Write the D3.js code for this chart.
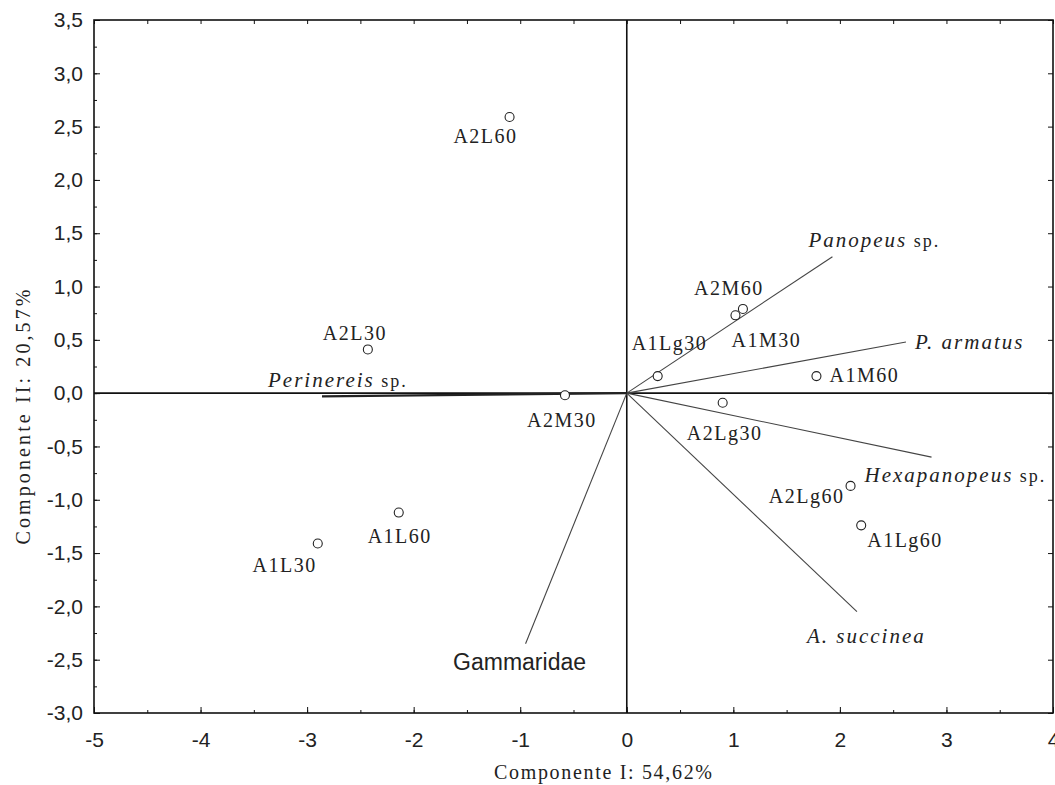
<!DOCTYPE html>
<html>
<head>
<meta charset="utf-8">
<script src="https://cdn.jsdelivr.net/npm/d3@7"></script>
<style>
  body { margin: 0; background: #fff; }
  svg { display: block; }
  .tick text { font-family: "Liberation Sans", Arial, sans-serif; font-size: 21px; fill: #222; }
  .tick line { stroke: #111; }
</style>
</head>
<body>
<svg id="chart" width="1055" height="785"></svg>
<script>
// PCA sample scores (Componente I, Componente II)
var sampleNames = ["A2L60", "A2L30", "A2M30", "A1L60", "A1L30", "A1Lg30",
                   "A2M60", "A1M30", "A1M60", "A2Lg30", "A2Lg60", "A1Lg60"];
var sampleX = [-1.10, -2.43, -0.58, -2.14, -2.90, 0.29, 1.09, 1.02, 1.78, 0.90, 2.10, 2.20];
var sampleY = [2.59, 0.41, -0.02, -1.12, -1.41, 0.16, 0.79, 0.73, 0.16, -0.09, -0.87, -1.24];

// species loadings (vector tips)
var speciesItalic = ["Panopeus", "P. armatus", "Hexapanopeus", "A. succinea", "Gammaridae", "Perinereis"];
var speciesSuffix = [" sp.", "", " sp.", "", "", " sp."];
var speciesX = [1.93, 2.62, 2.86, 2.16, -0.95, -2.86];
var speciesY = [1.28, 0.48, -0.60, -2.05, -2.35, -0.03];

var xTicks = [-5, -4, -3, -2, -1, 0, 1, 2, 3, 4];
var yTicks = [-3, -2.5, -2, -1.5, -1, -0.5, 0, 0.5, 1, 1.5, 2, 2.5, 3, 3.5];
var xTitle = "Componente I: 54,62%";
var yTitle = "Componente II: 20,57%";

// label placement (pixel offset from the mark, anchor)
var sampleLabelPlace = [
  [8, 26, "end"], [-13, -9, "middle"], [-3, 32, "middle"], [1, 30, "middle"],
  [-1, 29, "end"], [-26, -26, "start"], [-14, -14, "middle"], [31, 32, "middle"],
  [13, 6, "start"], [2, 37, "middle"], [-6, 17, "end"], [6, 22, "start"]
];
var speciesLabelPlace = [
  [-24, -10, "start"], [9, 7, "start"], [-67, 25, "start"],
  [-50, 31, "start"], [-6, 26, "middle"], [-54, -9, "start"]
];

var svg = d3.select("#chart");
var pLeft = 94, pRight = 1053, pTop = 20, pBottom = 713;

var x = d3.scaleLinear().domain([-5, 4]).range([pLeft, pRight]);
var y = d3.scaleLinear().domain([-3, 3.5]).range([pBottom, pTop]);

function minorValues(lo, hi, step) {
    var out = [];
    for (var v = lo; v <= hi + 1e-9; v += step) out.push(+v.toFixed(3));
    return out;
}
var xMinor = minorValues(-5, 4, 0.5);
var yMinor = minorValues(-3, 3.5, 0.25);

function noDomain(g) { g.select(".domain").remove(); }

// frame ticks, pointing inside
svg.append("g")
    .attr("transform", "translate(0," + pBottom + ")")
    .call(d3.axisBottom(x).tickValues(xMinor).tickSize(-3).tickFormat(""))
    .call(noDomain);
svg.append("g")
    .attr("transform", "translate(0," + pBottom + ")")
    .call(d3.axisBottom(x).tickValues(xTicks).tickSizeInner(-6).tickSizeOuter(0)
          .tickPadding(19).tickFormat(function(d) { return String(d); }))
    .call(noDomain);
svg.append("g")
    .attr("transform", "translate(0," + pTop + ")")
    .call(d3.axisTop(x).tickValues(xMinor).tickSize(-4).tickFormat(""))
    .call(noDomain);

svg.append("g")
    .attr("transform", "translate(" + pLeft + ",0)")
    .call(d3.axisLeft(y).tickValues(yMinor).tickSize(-3).tickFormat(""))
    .call(noDomain);
svg.append("g")
    .attr("transform", "translate(" + pLeft + ",0)")
    .call(d3.axisLeft(y).tickValues(yTicks).tickSizeInner(-6).tickSizeOuter(0)
          .tickPadding(11).tickFormat(function(d) { return d.toFixed(1).replace(".", ","); }))
    .call(noDomain);
svg.append("g")
    .attr("transform", "translate(" + pRight + ",0)")
    .call(d3.axisRight(y).tickValues(yTicks).tickSize(-5).tickFormat(""))
    .call(noDomain);

// frame
svg.append("rect")
    .attr("x", pLeft).attr("y", pTop)
    .attr("width", pRight - pLeft).attr("height", pBottom - pTop)
    .attr("fill", "none").attr("stroke", "#111").attr("stroke-width", 1.6);

// zero lines
svg.append("line")
    .attr("x1", x(0)).attr("x2", x(0)).attr("y1", pTop).attr("y2", pBottom)
    .attr("stroke", "#111").attr("stroke-width", 1.6);
svg.append("line")
    .attr("x1", pLeft).attr("x2", pRight).attr("y1", y(0)).attr("y2", y(0))
    .attr("stroke", "#111").attr("stroke-width", 1.6);

// species vectors
var species = speciesItalic.map(function(n, i) {
    return {name: n, suffix: speciesSuffix[i], x: speciesX[i], y: speciesY[i], place: speciesLabelPlace[i]};
});
svg.append("g").selectAll("line")
    .data(species).enter().append("line")
    .attr("x1", x(0)).attr("y1", y(0))
    .attr("x2", function(d) { return x(d.x); })
    .attr("y2", function(d) { return y(d.y); })
    .attr("stroke", function(d, i) { return i == 5 ? "#222" : "#444"; })
    .attr("stroke-width", function(d, i) { return i == 5 ? 2.2 : 1.1; });

var spText = svg.append("g").selectAll("text")
    .data(species).enter().append("text")
    .attr("x", function(d) { return x(d.x) + d.place[0]; })
    .attr("y", function(d) { return y(d.y) + d.place[1]; })
    .attr("text-anchor", function(d) { return d.place[2]; })
    .attr("fill", "#222");
spText.each(function(d) {
    var t = d3.select(this);
    if (d.name == "Gammaridae") {
        // family name set upright in a sans face
        t.attr("font-family", "'Liberation Sans', Arial, sans-serif")
         .attr("font-size", 23).text(d.name);
        return;
    }
    t.attr("font-family", "'Liberation Serif', 'Times New Roman', serif")
     .attr("font-size", 21).attr("letter-spacing", 2);
    t.append("tspan").attr("font-style", "italic").text(d.name);
    if (d.suffix) t.append("tspan").attr("font-size", 18).text(d.suffix);
});

// sample points
var samples = sampleNames.map(function(n, i) {
    return {name: n, x: sampleX[i], y: sampleY[i], place: sampleLabelPlace[i]};
});
svg.append("g").selectAll("circle")
    .data(samples).enter().append("circle")
    .attr("cx", function(d) { return x(d.x); })
    .attr("cy", function(d) { return y(d.y); })
    .attr("r", 4.5)
    .attr("fill", "#fff").attr("stroke", "#222").attr("stroke-width", 1.1);

svg.append("g").selectAll("text")
    .data(samples).enter().append("text")
    .attr("x", function(d) { return x(d.x) + d.place[0]; })
    .attr("y", function(d) { return y(d.y) + d.place[1]; })
    .attr("text-anchor", function(d) { return d.place[2]; })
    .attr("font-family", "'Liberation Serif', 'Times New Roman', serif")
    .attr("font-size", 20).attr("letter-spacing", 1.5)
    .attr("fill", "#222")
    .text(function(d) { return d.name; });

// axis titles
svg.append("text")
    .attr("x", 603).attr("y", 779)
    .attr("text-anchor", "middle")
    .attr("font-family", "'Liberation Serif', 'Times New Roman', serif")
    .attr("font-size", 20).attr("fill", "#222")
    .attr("textLength", 218).attr("lengthAdjust", "spacing")
    .text(xTitle);
svg.append("text")
    .attr("transform", "translate(30,417) rotate(-90)")
    .attr("text-anchor", "middle")
    .attr("font-family", "'Liberation Serif', 'Times New Roman', serif")
    .attr("font-size", 20).attr("fill", "#222")
    .attr("textLength", 255).attr("lengthAdjust", "spacing")
    .text(yTitle);
</script>
</body>
</html>
